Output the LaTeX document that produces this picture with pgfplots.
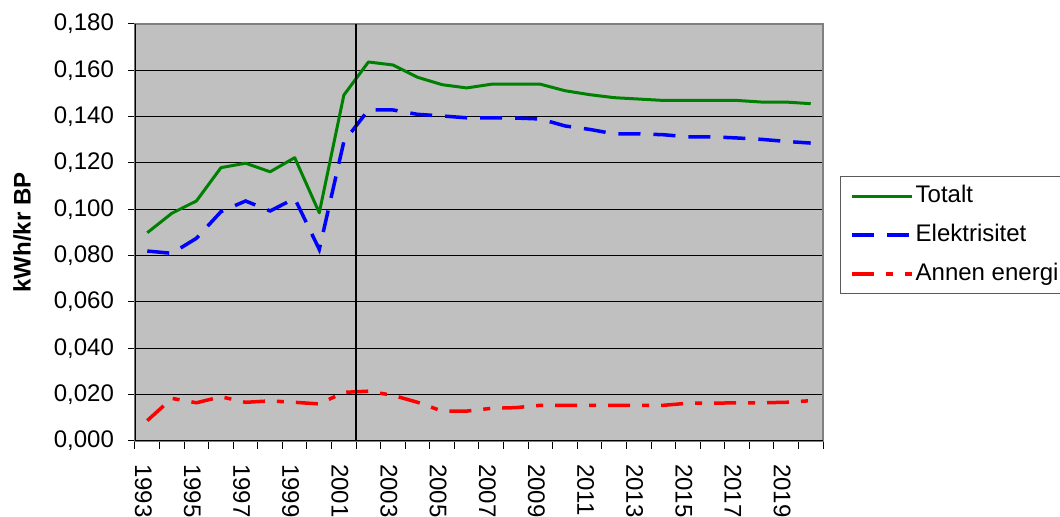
\documentclass[border=0pt]{standalone}
\usepackage{pgfplots}
\pgfplotsset{compat=1.18}
\usepackage{pgfplotstable}
\usepackage{fontspec}
\setmainfont{Liberation Sans}
\definecolor{plotbg}{HTML}{C0C0C0}
\definecolor{cgreen}{RGB}{0,128,0}
\definecolor{cblue}{RGB}{0,0,255}
\definecolor{cred}{RGB}{255,0,0}
\definecolor{frame}{HTML}{808080}

\pgfplotstableread{
x tot el an
0  0.0899 0.0820 0.0088
1  0.0983 0.0810 0.0184
2  0.1036 0.0875 0.0165
3  0.1180 0.0990 0.0191
4  0.1199 0.1036 0.0167
5  0.1162 0.0993 0.0173
6  0.1223 0.1047 0.0167
7  0.0985 0.0827 0.0160
8  0.1493 0.1292 0.0210
9  0.1636 0.1429 0.0215
10 0.1623 0.1429 0.0197
11 0.1570 0.1410 0.0167
12 0.1538 0.1403 0.0129
13 0.1524 0.1395 0.0129
14 0.1540 0.1395 0.0141
15 0.1540 0.1394 0.0144
16 0.1540 0.1390 0.0154
17 0.1512 0.1360 0.0154
18 0.1495 0.1345 0.0154
19 0.1482 0.1326 0.0154
20 0.1476 0.1326 0.0154
21 0.1470 0.1322 0.0154
22 0.1470 0.1313 0.0163
23 0.1470 0.1313 0.0163
24 0.1470 0.1308 0.0165
25 0.1463 0.1302 0.0165
26 0.1463 0.1293 0.0167
27 0.1456 0.1286 0.0174
}\datatable

\begin{document}
\begin{tikzpicture}
\path[use as bounding box] (-67.5pt,-38pt) rectangle (462.5pt,220.5pt);
\begin{axis}[
  at={(0,0)}, anchor=south west,
  scale only axis,
  width=344pt, height=208.5pt,
  xmin=-0.5, xmax=27.5,
  ymin=0, ymax=0.18,
  axis background/.style={fill=plotbg},
  axis line style={draw=frame, line width=0.6pt},
  font=\fontsize{12}{14}\selectfont,
  /pgf/number format/assume math mode=true,
  xtick={0,2,...,26},
  xticklabels={1993,1995,1997,1999,2001,2003,2005,2007,2009,2011,2013,2015,2017,2019},
  minor xtick={-0.5,0.5,...,27.5},
  major x tick style={draw=none},
  minor x tick style={black, line width=0.5pt},
  minor tick length=4pt,
  major tick length=3.5pt,
  tick align=outside,
  xtick pos=bottom, ytick pos=left,
  y tick style={black, line width=0.5pt},
  ytick={0,0.02,0.04,0.06,0.08,0.10,0.12,0.14,0.16,0.18},
  scaled y ticks=false,
  yticklabel style={xshift=-3.5pt, /pgf/number format/.cd, fixed, fixed zerofill, precision=3, use comma},
  xticklabel style={rotate=-90, anchor=west, yshift=-2pt},
  xticklabel shift=4.5pt,
  ymajorgrids,
  major grid style={black, line width=0.5pt},
  ylabel={\bfseries kWh/kr BP},
  ylabel style={at={(axis description cs:-0.164,0.5)}, anchor=center, font=\fontsize{12}{14}\selectfont},
  legend style={at={(1.0247,0.6355)}, anchor=north west,
    draw=frame!70!black, line width=0.6pt, fill=white,
    inner xsep=5pt, inner ysep=4pt,
    row sep=8pt,
    nodes={inner sep=0pt, text height=9pt, text depth=2.5pt, anchor=west},
    /tikz/every odd column/.append style={column sep=0.8pt},
    font=\fontsize{12}{14}\selectfont},
  legend cell align=left,
  legend image code/.code={\draw[#1] (0pt,0pt) -- (30pt,0pt);},
]
\addplot[cgreen, line width=1.5pt, line join=round] table[x=x, y=tot] {\datatable};
\addlegendentry{Totalt}
\addplot[cblue, line width=1.75pt, dash pattern=on 11pt off 6.5pt] table[x=x, y=el] {\datatable};
\addlegendentry{Elektrisitet}
\addplot[cred, line width=1.75pt, dash pattern=on 11pt off 6pt on 3.5pt off 6pt] table[x=x, y=an] {\datatable};
\addlegendentry{Annen energi}
\draw[black, line width=1pt] (axis cs:8.5,0) -- (axis cs:8.5,0.18);
\draw[black, line width=0.6pt] (rel axis cs:0,0) -- (rel axis cs:0,1);
\draw[black, line width=0.6pt] (rel axis cs:0,0) -- (rel axis cs:1,0);
\end{axis}
\end{tikzpicture}
\end{document}
